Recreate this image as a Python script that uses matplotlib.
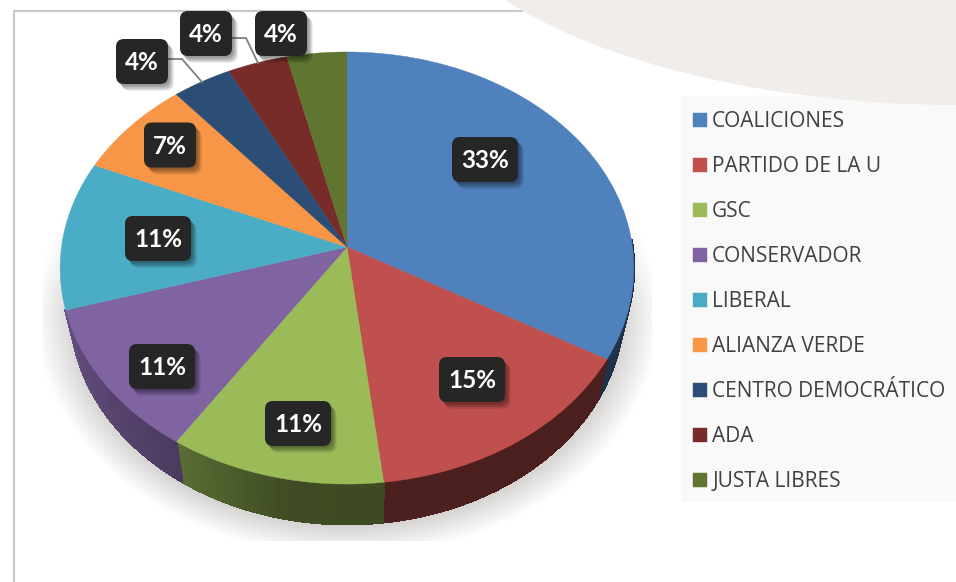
import matplotlib
matplotlib.use("Agg")
import matplotlib.pyplot as plt
import matplotlib.patheffects as pe
import matplotlib.transforms as mtransforms
from matplotlib.collections import PolyCollection
from matplotlib.patches import FancyBboxPatch, PathPatch, Rectangle
from matplotlib.path import Path
import numpy as np

labels = ["COALICIONES", "PARTIDO DE LA U", "GSC", "CONSERVADOR", "LIBERAL",
          "ALIANZA VERDE", "CENTRO DEMOCRÁTICO", "ADA", "JUSTA LIBRES"]
values = [9, 4, 3, 3, 3, 2, 1, 1, 1]
colors = ["#4f81bd", "#c0504d", "#9bbb59", "#8064a2", "#4bacc6",
          "#f79646", "#2c4d75", "#772c2a", "#5f7530"]

# label box centres in pixels
box_centres = [(485, 159.5), (472, 379.5), (298, 423.5), (162, 366.5), (158, 238.5),
               (170, 145), (142, 61.5), (206, 33.5), (281, 33.5)]

# pie geometry in pixels
CX, CY = 347, 247
A, B, K = 285.5, 214.0, 0.0973
DEPTH = 40
SHRINK = 0.965


class Tilt(mtransforms.Transform):
    """unit circle -> tilted disc seen in perspective"""
    input_dims = 2
    output_dims = 2

    def transform_non_affine(self, xy):
        xy = np.asarray(xy)
        w = 1 + K * xy[:, 1]
        return np.column_stack((CX + A * xy[:, 0] / w, CY - B * xy[:, 1] / w))


def side_shade(phi):
    return np.interp(phi, [90, 190, 215, 255], [0.38, 0.40, 0.60, 0.80])


fig = plt.figure(figsize=(9.56, 5.82), dpi=100)
ax = fig.add_axes([0, 0, 1, 1])
wedges, _ = ax.pie(values, colors=colors, startangle=90, counterclock=False)
ax.set_aspect("auto")
ax.axis("off")

tilt = Tilt()
for w, c in zip(wedges, colors):
    w.set_transform(tilt + ax.transData)
    w.set_zorder(4)
    w.set_edgecolor(c)
    w.set_linewidth(0.3)

# background frame, legend panel and swoosh
ax.plot([14, 14, 522], [582, 10.5, 10.5], color="#c9c9c9", lw=1.6, zorder=1)
ax.add_patch(Rectangle((681, 96), 275, 406, fc="#f9f9f9", ec="none", zorder=1))
swoosh = Path([(505, 0), (600, 62), (770, 105), (956, 105), (956, 0), (505, 0)],
              [Path.MOVETO, Path.CURVE4, Path.CURVE4, Path.CURVE4, Path.LINETO, Path.CLOSEPOLY])
ax.add_patch(PathPatch(swoosh, fc="#f0edeb", ec="none", zorder=1.5))

# soft shadow under the pie
xs, ys = np.meshgrid(np.arange(43, 652), np.arange(170, 541))
d = np.sqrt(((xs - 347) / 312.0) ** 2 + ((ys - 315) / 240.0) ** 2)
alpha = np.clip((1 - d) / 0.16, 0, 1) * np.clip((ys - 170) / 130.0, 0, 1)
shadow = np.zeros(xs.shape + (4,))
shadow[..., :3] = np.array([200, 199, 197]) / 255
shadow[..., 3] = alpha
ax.imshow(shadow, extent=(43, 652, 541, 170), aspect="auto", zorder=2)
ax.set_xlim(0, 956)
ax.set_ylim(582, 0)

# pie side wall, the wedges past the left edge have none showing
for w, c in zip(wedges, colors):
    t = np.linspace(w.theta1, w.theta2, 80)
    t = t[np.sin(np.radians(t)) < 0.05]
    t = t[(90 - t) % 360 < 253.4]
    if len(t) < 2:
        continue
    rim = tilt.transform(np.column_stack((np.cos(np.radians(t)), np.sin(np.radians(t)))))
    low = np.column_stack((CX + SHRINK * (rim[:, 0] - CX), rim[:, 1] + DEPTH))
    quads = [[rim[i], rim[i + 1], low[i + 1], low[i]] for i in range(len(t) - 1)]
    phi = (90 - (t[:-1] + t[1:]) / 2) % 360
    base = np.array(matplotlib.colors.to_rgb(c))
    face = [tuple(base * s) for s in side_shade(phi)]
    ax.add_collection(PolyCollection(quads, facecolors=face, edgecolors=face, linewidths=1.2,
                                     antialiaseds=False, zorder=3), autolim=False)

# leader lines
ax.plot([169, 182, 202], [59, 59, 82], color="#7f7f7f", lw=1.3, zorder=5)
ax.plot([233, 246, 258], [38, 38, 63], color="#7f7f7f", lw=1.3, zorder=5)

# value labels
total = sum(values)
soft = [pe.SimplePatchShadow(offset=(o, -o * 1.2), shadow_rgbFace="#000000", alpha=0.12)
        for o in (4, 3, 2, 1)]
for v, (bx, by) in zip(values, box_centres):
    txt = "%d%%" % round(100 * v / total)
    bw = 66 if len(txt) > 2 else 52
    bh = 45
    box = FancyBboxPatch((bx - bw / 2 + 5, by - bh / 2 + 5), bw - 10, bh - 10,
                         boxstyle="round,pad=5,rounding_size=8",
                         fc="#262626", ec="none", zorder=6)
    box.set_path_effects(soft + [pe.Normal()])
    ax.add_patch(box)
    ax.text(bx, by + 1, txt, color="white", fontsize=17.5, fontweight="bold",
            family="Lato", ha="center", va="center", zorder=7)

leg = ax.legend(wedges, labels, loc="upper left", bbox_to_anchor=(693, 111),
                bbox_transform=ax.transData, frameon=False, borderpad=0, borderaxespad=0,
                prop={"family": "Open Sans", "size": 15.05}, labelcolor="#404040",
                handlelength=0.67, handleheight=0.67, handletextpad=0.25, labelspacing=1.15)
leg.set_zorder(8)

fig.savefig("out.png", dpi=100)
